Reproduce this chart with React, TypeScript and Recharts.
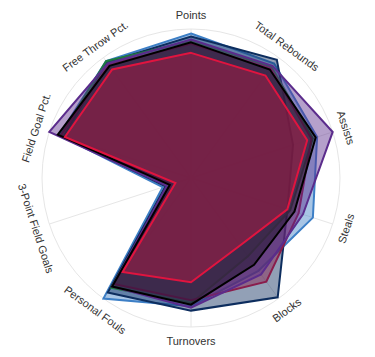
import { Radar, RadarChart, PolarGrid, PolarAngleAxis, PolarRadiusAxis } from 'recharts'

const categories = [
  'Points',
  'Total Rebounds',
  'Assists',
  'Steals',
  'Blocks',
  'Turnovers',
  'Personal Fouls',
  '3-Point Field Goals',
  'Field Goal Pct.',
  'Free Throw Pct.',
]

const lightBlue = [0.97, 0.95, 0.89, 0.86, 0.77, 0.86, 1.0, 0.2, 0.93, 0.97]
const navy = [0.95, 0.98, 0.72, 0.68, 0.99, 0.89, 0.95, 0.18, 0.9, 0.96]
const green = [0.92, 0.92, 0.86, 0.7, 0.65, 0.84, 0.91, 0.16, 0.92, 0.97]
const maroon = [0.9, 0.91, 0.85, 0.76, 0.86, 0.82, 0.88, 0.14, 0.92, 0.94]
const purple = [0.93, 0.93, 1.0, 0.79, 0.8, 0.87, 0.9, 0.17, 1.0, 0.95]
const black = [0.91, 0.9, 0.88, 0.73, 0.72, 0.85, 0.9, 0.15, 0.94, 0.93]
const red = [0.84, 0.85, 0.82, 0.68, 0.56, 0.7, 0.78, 0.11, 0.89, 0.9]

const series = [
  { key: 'lightBlue', values: lightBlue, color: '#3d7fc6', opacity: 0.45 },
  { key: 'navy', values: navy, color: '#0d2d5e', opacity: 0.45 },
  { key: 'green', values: green, color: '#1d7c3e', opacity: 0.45 },
  { key: 'maroon', values: maroon, color: '#8a1d4c', opacity: 0.45 },
  { key: 'purple', values: purple, color: '#5b2c8c', opacity: 0.45 },
  { key: 'black', values: black, color: '#000000', opacity: 0.35 },
  { key: 'red', values: red, color: '#e0143f', opacity: 0.35 },
]

const data = categories.map((name, i) => {
  const row: Record<string, number | string> = { name }
  series.forEach((s) => {
    row[s.key] = s.values[i]
  })
  return row
})

const AngleTick = (props: any) => {
  const { cx, cy, radius, payload } = props
  const angle = payload.coordinate
  const rad = (angle * Math.PI) / 180
  const r = radius + 14
  const x = cx + r * Math.cos(rad)
  const y = cy - r * Math.sin(rad)
  let rot = 90 - angle
  while (rot > 90) rot -= 180
  while (rot <= -90) rot += 180
  return (
    <text
      x={x}
      y={y}
      textAnchor="middle"
      dominantBaseline="central"
      transform={`rotate(${rot} ${x} ${y})`}
      fontSize={11}
      fill="#333"
      fontFamily="'Liberation Sans', Arial, sans-serif"
    >
      {payload.value}
    </text>
  )
}

export default function App() {
  return (
    <RadarChart width={367} height={349} data={data} cx={183} cy={170} outerRadius={149}>
      <PolarGrid gridType="circle" stroke="#e6e6e6" />
      <PolarAngleAxis dataKey="name" tick={<AngleTick />} tickLine={false} axisLine={false} />
      <PolarRadiusAxis domain={[0, 1]} tickCount={11} tick={false} axisLine={false} />
      {series.map((s) => (
        <Radar
          key={s.key}
          dataKey={s.key}
          stroke={s.color}
          strokeWidth={2}
          fill={s.color}
          fillOpacity={s.opacity}
          isAnimationActive={false}
        />
      ))}
    </RadarChart>
  )
}
